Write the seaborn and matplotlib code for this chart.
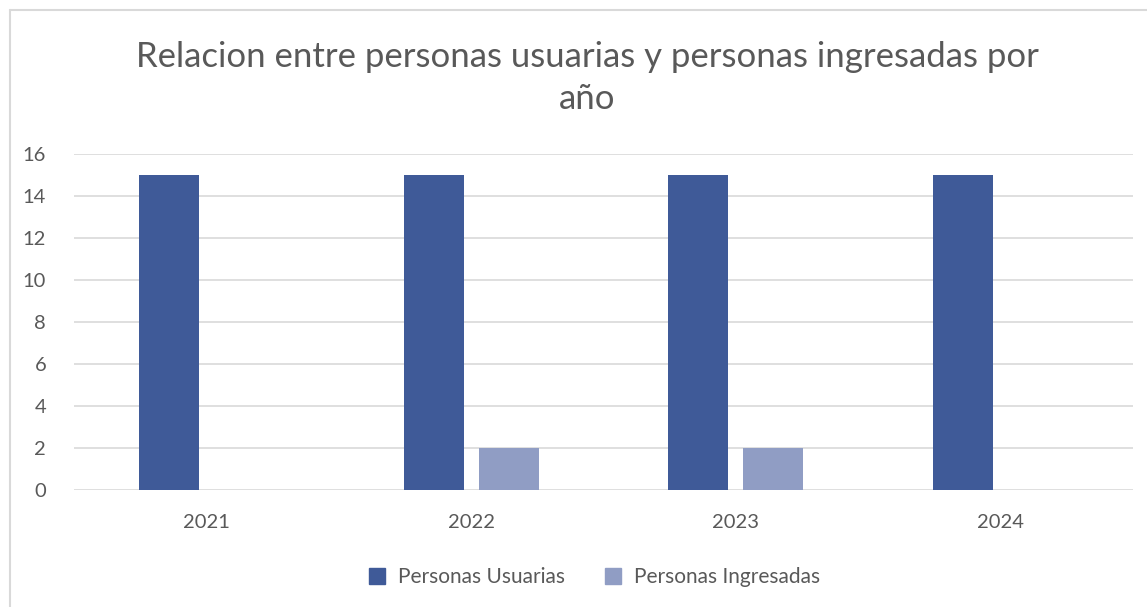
import pandas as pd
import matplotlib.pyplot as plt
import seaborn as sns
from matplotlib.lines import Line2D

sns.set_style("white")
plt.rcParams['font.family'] = ['Lato', 'DejaVu Sans']

# data
years = ['2021', '2022', '2023', '2024']
usuarias = [15, 15, 15, 15]
ingresadas = [0, 2, 2, 0]
series_names = ['Personas Usuarias', 'Personas Ingresadas']
colors = ['#3F5A98', '#909DC4']

df = pd.DataFrame({
    'year': years * 2,
    'value': usuarias + ingresadas,
    'serie': [series_names[0]] * 4 + [series_names[1]] * 4,
})

grey = '#595959'

fig = plt.figure(figsize=(11.47, 6.07), dpi=100)
ax = fig.add_axes([74 / 1147, 1 - 490 / 607, 1059 / 1147, 336 / 607])

sns.barplot(data=df, x='year', y='value', hue='serie', palette=colors,
            width=0.566, gap=0.2, ax=ax, legend=False, errorbar=None,
            saturation=1, linewidth=0)

ax.set_ylim(0, 16)
ax.set_yticks(range(0, 17, 2))
ax.set_xlim(-0.5, 3.5)
ax.grid(axis='y', color='#D9D9D9', linewidth=1.2)
ax.set_axisbelow(True)
for s in ax.spines.values():
    s.set_visible(False)
ax.tick_params(axis='both', length=0, labelsize=14.5, labelcolor=grey)
ax.tick_params(axis='y', pad=20)
ax.tick_params(axis='x', pad=17)
ax.set_xlabel('')
ax.set_ylabel('')

fig.text(0.512, 1 - 78 / 607,
         'Relacion entre personas usuarias y personas ingresadas por\naño',
         ha='center', va='center', fontsize=25, color=grey, linespacing=1.35)

handles = [Line2D([], [], marker='s', linestyle='', markersize=11,
                  markerfacecolor=c, markeredgecolor=c) for c in colors]
fig.legend(handles, series_names, loc='center', ncol=2, frameon=False,
           bbox_to_anchor=(0.513, 1 - 577 / 607), fontsize=15,
           labelcolor=grey, handletextpad=0.0, columnspacing=1.3)

# chart area border (left and top visible)
border = '#D9D9D9'
fig.add_artist(Line2D([10 / 1147, 10 / 1147], [0, 1 - 10 / 607],
                      transform=fig.transFigure, color=border, linewidth=1.5))
fig.add_artist(Line2D([10 / 1147, 1], [1 - 10 / 607, 1 - 10 / 607],
                      transform=fig.transFigure, color=border, linewidth=1.5))

fig.savefig('out.png', dpi=100)
